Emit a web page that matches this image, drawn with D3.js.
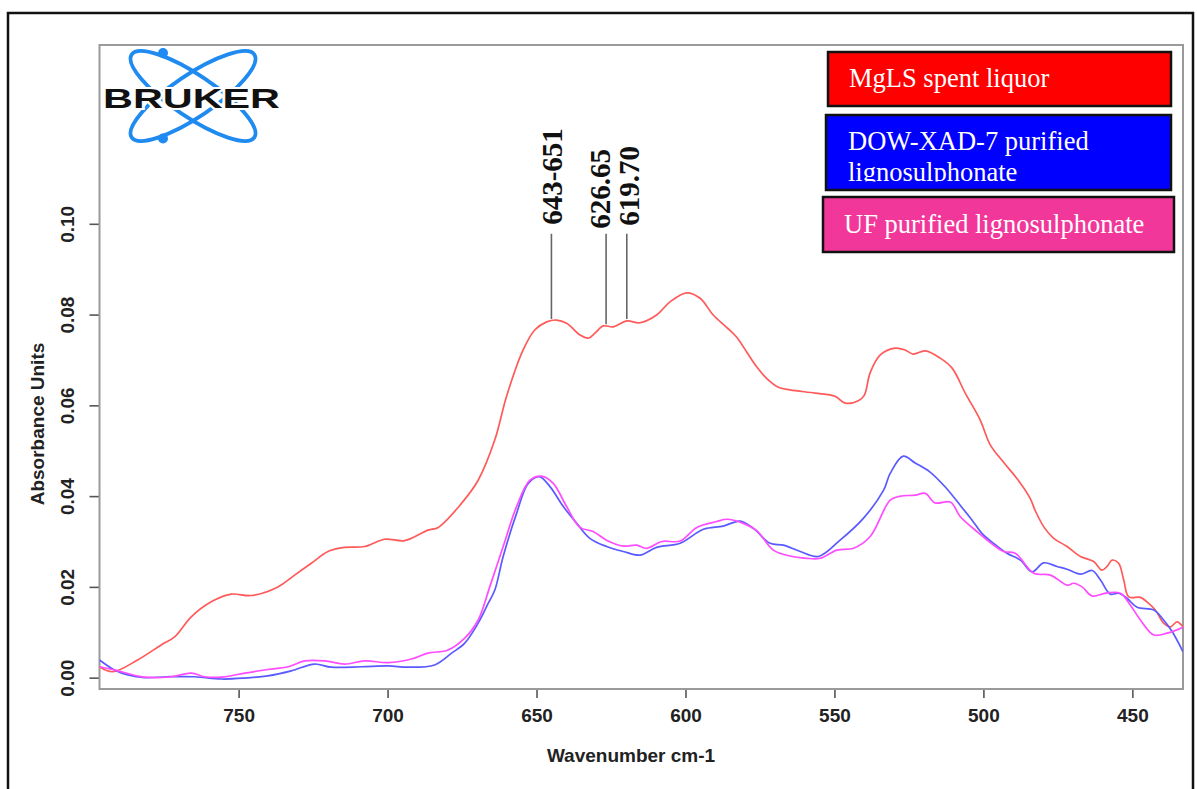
<!DOCTYPE html>
<html>
<head>
<meta charset="utf-8">
<script src="https://cdn.jsdelivr.net/npm/d3@7"></script>
<style>
  html, body { margin: 0; padding: 0; background: #fff; }
  svg { display: block; }
</style>
</head>
<body>
<svg id="chart" width="1197" height="789"></svg>
<script>
// Absorbance spectra: [wavenumber (cm-1), absorbance]
const mglsSpent = [
  [796.7,0.0024],[792.3,0.0013],[783.9,0.0039],[776.0,0.0072],[771.5,0.0090],[765.9,0.0134],
  [759.2,0.0167],[752.5,0.0184],[745.7,0.0181],[736.8,0.0200],[731.2,0.0226],[725.6,0.0252],
  [720.0,0.0278],[714.4,0.0287],[707.7,0.0289],[701.0,0.0305],[694.3,0.0302],[686.4,0.0325],
  [683.0,0.0331],[675.2,0.0384],[669.6,0.0435],[664.0,0.0524],[660.1,0.0619],[654.5,0.0722],
  [650.6,0.0766],[646.6,0.0784],[643.3,0.0788],[639.9,0.0781],[635.4,0.0755],[632.6,0.0748],
  [630.4,0.0759],[627.6,0.0775],[624.3,0.0773],[619.7,0.0786],[615.3,0.0782],[609.7,0.0799],
  [605.2,0.0828],[599.6,0.0848],[595.1,0.0836],[590.7,0.0799],[586.2,0.0772],[582.8,0.0750],
  [579.4,0.0717],[576.1,0.0685],[572.7,0.0659],[568.8,0.0640],[564.9,0.0634],[556.5,0.0627],
  [549.8,0.0620],[546.4,0.0605],[542.0,0.0610],[540.0,0.0622],[538.0,0.0672],[534.6,0.0711],
  [529.6,0.0726],[526.3,0.0722],[523.6,0.0713],[519.5,0.0720],[514.5,0.0704],[510.5,0.0682],
  [506.1,0.0627],[501.1,0.0568],[497.7,0.0513],[493.3,0.0475],[488.3,0.0435],[484.3,0.0395],
  [482.6,0.0368],[479.5,0.0330],[476.4,0.0307],[471.9,0.0289],[467.4,0.0267],[463.0,0.0256],
  [460.2,0.0237],[458.5,0.0245],[456.8,0.0259],[454.6,0.0252],[452.9,0.0215],[451.2,0.0178],
  [447.3,0.0177],[445.1,0.0167],[442.3,0.0149],[439.5,0.0120],[437.2,0.0112],[435.0,0.0123],
  [433.0,0.0112]
];
const dowXad7 = [
  [796.7,0.0039],[791.7,0.0017],[787.2,0.0006],[781.6,0.0000],[773.8,0.0002],[764.8,0.0002],
  [755.8,-0.0003],[748.0,-0.0001],[740.2,0.0004],[732.3,0.0015],[724.5,0.0030],[718.9,0.0023],
  [708.8,0.0024],[699.8,0.0026],[693.1,0.0023],[684.2,0.0028],[678.5,0.0054],[674.1,0.0076],
  [669.6,0.0120],[666.2,0.0164],[664.0,0.0193],[661.2,0.0267],[656.7,0.0362],[652.8,0.0428],
  [649.1,0.0443],[645.5,0.0421],[641.0,0.0377],[636.5,0.0340],[632.1,0.0307],[626.5,0.0289],
  [620.9,0.0278],[615.3,0.0270],[609.7,0.0287],[601.8,0.0296],[594.0,0.0327],[587.3,0.0334],
  [581.7,0.0345],[577.2,0.0329],[571.6,0.0296],[567.1,0.0292],[561.5,0.0278],[555.4,0.0267],
  [548.1,0.0303],[540.3,0.0351],[533.5,0.0413],[531.3,0.0450],[526.9,0.0488],[522.9,0.0473],
  [517.9,0.0453],[512.8,0.0420],[507.8,0.0380],[503.8,0.0347],[500.5,0.0318],[496.6,0.0296],
  [492.1,0.0274],[487.6,0.0259],[483.7,0.0233],[479.8,0.0253],[475.3,0.0245],[471.9,0.0239],
  [467.4,0.0228],[463.5,0.0236],[460.7,0.0215],[457.4,0.0184],[454.6,0.0186],[451.8,0.0175],
  [448.4,0.0155],[442.8,0.0149],[439.5,0.0127],[436.6,0.0101],[433.0,0.0057]
];
const ufPurified = [
  [796.7,0.0024],[791.7,0.0017],[781.6,0.0001],[772.6,0.0002],[765.9,0.0010],[761.4,0.0002],
  [755.8,0.0001],[748.0,0.0010],[740.2,0.0018],[733.4,0.0024],[727.8,0.0037],[721.1,0.0037],
  [714.4,0.0030],[707.7,0.0037],[699.8,0.0033],[692.0,0.0041],[686.4,0.0054],[679.7,0.0061],
  [674.1,0.0087],[669.6,0.0127],[665.7,0.0200],[661.2,0.0289],[656.7,0.0377],[652.2,0.0435],
  [648.3,0.0444],[644.4,0.0428],[639.9,0.0377],[635.4,0.0331],[631.0,0.0322],[626.5,0.0303],
  [620.9,0.0290],[616.4,0.0292],[613.0,0.0285],[608.0,0.0300],[601.8,0.0301],[596.2,0.0331],
  [589.5,0.0344],[586.2,0.0349],[580.6,0.0340],[576.1,0.0324],[570.5,0.0281],[564.9,0.0268],
  [559.3,0.0263],[554.8,0.0263],[549.2,0.0281],[543.6,0.0285],[538.0,0.0311],[531.3,0.0391],
  [527.9,0.0400],[522.9,0.0402],[519.5,0.0406],[516.2,0.0385],[511.1,0.0387],[507.8,0.0355],
  [502.2,0.0322],[496.6,0.0292],[493.2,0.0278],[489.3,0.0274],[483.1,0.0230],[477.5,0.0226],
  [471.9,0.0204],[469.7,0.0208],[466.9,0.0200],[463.5,0.0180],[458.5,0.0187],[454.0,0.0186],
  [450.7,0.0160],[447.3,0.0127],[442.8,0.0094],[438.3,0.0098],[433.0,0.0111]
];

const seriesData  = [mglsSpent, dowXad7, ufPurified];
const lineColors  = ["#ff5a5a", "#5a5aff", "#ff4cff"];

const legendLabels = [["MgLS spent liquor"], ["DOW-XAD-7 purified", "lignosulphonate"], ["UF purified lignosulphonate"]];
const legendFills  = ["#ff0000", "#0000ff", "#f2379a"];

const xTicks = [750, 700, 650, 600, 550, 500, 450];
const yTicks = [0, 0.02, 0.04, 0.06, 0.08, 0.10];

const peakLabels = ["643-651", "626.65", "619.70"];
const peakWn     = [645, 626.65, 619.70];

const svg = d3.select("#chart");
const defs = svg.append("defs");

// outer frame
svg.append("rect")
  .attr("x", 8).attr("y", 13).attr("width", 1185).attr("height", 800)
  .attr("fill", "none").attr("stroke", "#111").attr("stroke-width", 2.5);

const plot = { left: 99.5, right: 1183, top: 45, bottom: 689 };

const x = d3.scaleLinear().domain([796.7, 433.0]).range([plot.left, plot.right]);
const y = d3.scaleLinear().domain([-0.0025, 0.1394]).range([plot.bottom, plot.top]);

// clip for spectra
defs.append("clipPath").attr("id", "plotClip")
  .append("rect")
  .attr("x", plot.left).attr("y", plot.top)
  .attr("width", plot.right - plot.left).attr("height", plot.bottom - plot.top);

const axisFont = "'Liberation Sans', Arial, sans-serif";

// x axis
const gx = svg.append("g")
  .attr("transform", `translate(0,${plot.bottom})`)
  .call(d3.axisBottom(x).tickValues(xTicks).tickSize(9).tickSizeOuter(0).tickFormat(d3.format("d")));
gx.select(".domain").remove();
gx.selectAll(".tick line").attr("stroke", "#555").attr("stroke-width", 1.6);
gx.selectAll(".tick text")
  .attr("y", 20).attr("dy", "0.71em")
  .attr("fill", "#222")
  .style("font-family", axisFont).style("font-size", "19px").style("font-weight", "bold");

// y axis
const gy = svg.append("g")
  .attr("transform", `translate(${plot.left},0)`)
  .call(d3.axisLeft(y).tickValues(yTicks).tickSize(10).tickSizeOuter(0).tickFormat(d3.format(".2f")));
gy.select(".domain").remove();
gy.selectAll(".tick line").attr("stroke", "#555").attr("stroke-width", 1.6);
gy.selectAll(".tick text")
  .attr("x", null).attr("dy", null)
  .attr("transform", "translate(-26,0) rotate(-90)")
  .attr("text-anchor", "middle")
  .attr("fill", "#222")
  .style("font-family", axisFont).style("font-size", "19px").style("font-weight", "bold");

// plot frame
svg.append("rect")
  .attr("x", plot.left).attr("y", plot.top)
  .attr("width", plot.right - plot.left).attr("height", plot.bottom - plot.top)
  .attr("fill", "none").attr("stroke", "#9a9a9a").attr("stroke-width", 2);

// axis titles
svg.append("text")
  .attr("x", 631).attr("y", 762)
  .attr("text-anchor", "middle").attr("fill", "#222")
  .style("font-family", axisFont).style("font-size", "19px").style("font-weight", "bold")
  .text("Wavenumber cm-1");

svg.append("text")
  .attr("transform", "translate(44,424) rotate(-90)")
  .attr("text-anchor", "middle").attr("fill", "#222")
  .style("font-family", axisFont).style("font-size", "19px").style("font-weight", "bold")
  .text("Absorbance Units");

// spectra
const line = d3.line()
  .x(d => x(d[0]))
  .y(d => y(d[1]))
  .curve(d3.curveCatmullRom.alpha(0.5));

svg.append("g").attr("clip-path", "url(#plotClip)")
  .selectAll("path")
  .data(seriesData)
  .join("path")
  .attr("d", line)
  .attr("fill", "none")
  .attr("stroke", (d, i) => lineColors[i])
  .attr("stroke-width", 1.7)
  .attr("stroke-linejoin", "round");

// peak markers on the MgLS spectrum
const redAt = wn => {
  const s = mglsSpent;
  for (let i = 0; i < s.length - 1; i++) {
    const [w0, v0] = s[i], [w1, v1] = s[i + 1];
    if (wn <= w0 && wn >= w1) return v0 + (v1 - v0) * (w0 - wn) / (w0 - w1);
  }
  return s[s.length - 1][1];
};
const markerTop = 0.0978;
const labelShift = [{ dx: 1, dy: 0 }, { dx: -6, dy: 4 }, { dx: 2.5, dy: 1 }];
const peaks = svg.append("g");
peakWn.forEach((wn, i) => {
  const px = x(wn);
  peaks.append("line")
    .attr("x1", px).attr("x2", px)
    .attr("y1", y(markerTop)).attr("y2", y(redAt(wn)) - 2)
    .attr("stroke", "#666").attr("stroke-width", 1.6);
  peaks.append("text")
    .attr("transform", `translate(${px + 9.5 + labelShift[i].dx},${y(markerTop) - 9 + labelShift[i].dy}) rotate(-90)`)
    .attr("text-anchor", "start")
    .attr("fill", "#111")
    .style("font-family", "'Liberation Serif', 'Times New Roman', serif")
    .style("font-size", "29px").style("font-weight", "bold")
    .text(peakLabels[i]);
});

// legend boxes
const legendBoxes = [
  { x: 828, y: 52,  w: 343, h: 54, tx: 849, ty: [87] },
  { x: 826, y: 115, w: 345, h: 75, tx: 848, ty: [149.5, 181] },
  { x: 823, y: 197, w: 351, h: 55, tx: 844, ty: [233] }
];
const legendClipBottom = [104, 181.5, 250];
const legend = svg.append("g");
legendBoxes.forEach((b, i) => {
  const cid = "legClip" + i;
  defs.append("clipPath").attr("id", cid)
    .append("rect").attr("x", b.x).attr("y", b.y).attr("width", b.w).attr("height", legendClipBottom[i] - b.y);
  legend.append("rect")
    .attr("x", b.x).attr("y", b.y).attr("width", b.w).attr("height", b.h)
    .attr("fill", legendFills[i]).attr("stroke", "#111").attr("stroke-width", 2.5);
  const g = legend.append("g").attr("clip-path", `url(#${cid})`);
  legendLabels[i].forEach((t, j) => {
    g.append("text")
      .attr("x", b.tx).attr("y", b.ty[j])
      .attr("fill", "#fff")
      .style("font-family", "'Liberation Serif', 'Times New Roman', serif")
      .style("font-size", "26.5px")
      .text(t);
  });
});

// BRUKER mark
const logo = svg.append("g");
const lc = { x: 193, y: 96 };
[34, -34].forEach(a => {
  logo.append("ellipse")
    .attr("cx", lc.x).attr("cy", lc.y).attr("rx", 74).attr("ry", 21)
    .attr("transform", `rotate(${a},${lc.x},${lc.y})`)
    .attr("fill", "none").attr("stroke", "#1f8af0").attr("stroke-width", 3.8);
});
[[163, 53], [163, 138.5]].forEach(p => {
  logo.append("circle").attr("cx", p[0]).attr("cy", p[1]).attr("r", 5).attr("fill", "#1f8af0");
});
logo.append("text")
  .attr("x", 103).attr("y", 107.5)
  .attr("textLength", 177).attr("lengthAdjust", "spacingAndGlyphs")
  .attr("fill", "#111").attr("stroke", "#fff").attr("stroke-width", 4)
  .attr("paint-order", "stroke")
  .style("font-family", "'Liberation Sans', Arial, sans-serif")
  .style("font-size", "28.5px").style("font-weight", "bold")
  .text("BRUKER");
</script>
</body>
</html>
